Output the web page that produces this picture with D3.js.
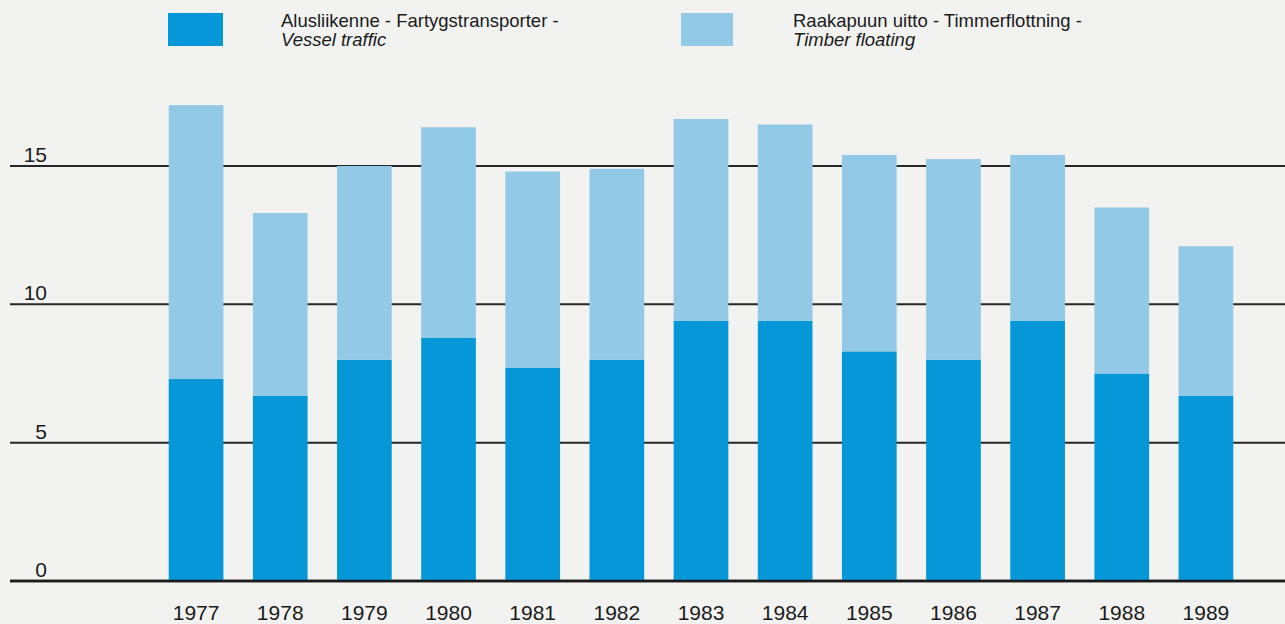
<!DOCTYPE html>
<html>
<head>
<meta charset="utf-8">
<script src="https://cdn.jsdelivr.net/npm/d3@7"></script>
<style>
  body { margin: 0; background: #f2f3f1; }
  #chart { width: 1285px; height: 624px; }
  text { font-family: "Liberation Sans", Arial, sans-serif; fill: #1a1a1a; }
</style>
</head>
<body>
<div id="chart"></div>
<script>

const years = ['1977','1978','1979','1980','1981','1982','1983','1984','1985','1986','1987','1988','1989'];
// alusliikenne (vessel traffic)
const vessel = [7.3, 6.7, 8.0, 8.8, 7.7, 8.0, 9.4, 9.4, 8.3, 8.0, 9.4, 7.5, 6.7];
// raakapuun uitto (timber floating)
const timber = [9.9, 6.6, 7.0, 7.6, 7.1, 6.9, 7.3, 7.1, 7.1, 7.25, 6.0, 6.0, 5.4];
const yTicks = [0, 5, 10, 15];

const legendLines = [
  ['Alusliikenne - Fartygstransporter -', 'Vessel traffic'],
  ['Raakapuun uitto - Timmerflottning -', 'Timber floating']
];

const DARK = '#0597d7';
const LIGHT = '#92c9e6';

function StackChart(_){

  let _w, _h;

  function exports(){

    _w = _.clientWidth;
    _h = _.clientHeight;

    const rows = years.map((y, i) => ({ year: y, vessel: vessel[i], timber: timber[i] }));
    const series = d3.stack().keys(['vessel','timber'])(rows);

    const x = d3.scaleBand()
      .domain(years)
      .range([154, 1248])
      .paddingInner(0.35)
      .paddingOuter(0.175);

    const y = d3.scaleLinear()
      .domain([0, 15])
      .range([581, 166]);

    const svg = d3.select(_)
      .append('svg')
      .attr('width', _w)
      .attr('height', _h);

    // gridlines
    svg.selectAll('.grid')
      .data(yTicks)
      .enter().append('line')
      .attr('class','grid')
      .attr('x1', 10)
      .attr('x2', _w)
      .attr('y1', d => y(d))
      .attr('y2', d => y(d))
      .style('stroke', '#262626')
      .style('stroke-width', d => d === 0 ? 2.5 : 2);

    svg.selectAll('.ylab')
      .data(yTicks)
      .enter().append('text')
      .attr('class','ylab')
      .attr('x', 47)
      .attr('y', d => y(d) - 4)
      .attr('text-anchor','end')
      .style('font-size','21px')
      .text(d => d);

    const color = d3.scaleOrdinal().domain(['vessel','timber']).range([DARK, LIGHT]);

    svg.selectAll('.layer')
      .data(series)
      .enter().append('g')
      .attr('class','layer')
      .style('fill', d => color(d.key))
      .selectAll('rect')
      .data(d => d)
      .enter().append('rect')
      .attr('x', d => x(d.data.year))
      .attr('width', x.bandwidth())
      .attr('y', d => y(d[1]))
      .attr('height', d => y(d[0]) - y(d[1]));

    // redraw the zero line over the bars
    svg.append('line')
      .attr('x1', 10).attr('x2', _w)
      .attr('y1', y(0)).attr('y2', y(0))
      .style('stroke', '#1a1a1a')
      .style('stroke-width', 2.5);

    svg.selectAll('.xlab')
      .data(years)
      .enter().append('text')
      .attr('class','xlab')
      .attr('x', d => x(d) + x.bandwidth() / 2)
      .attr('y', 620)
      .attr('text-anchor','middle')
      .style('font-size','21px')
      .text(d => d);

    // legend
    const legendX = [168, 681];
    const legend = svg.selectAll('.legend')
      .data(legendLines)
      .enter().append('g')
      .attr('class','legend')
      .attr('transform', (d, i) => `translate(${legendX[i]}, 13)`);

    legend.append('rect')
      .attr('width', (d, i) => i === 0 ? 55 : 52)
      .attr('height', 33)
      .style('fill', (d, i) => i === 0 ? DARK : LIGHT);

    legend.append('text')
      .attr('x', (d, i) => i === 0 ? 113 : 112)
      .attr('y', 14)
      .style('font-size','18.5px')
      .text(d => d[0]);

    legend.append('text')
      .attr('x', (d, i) => i === 0 ? 113 : 112)
      .attr('y', 33)
      .style('font-size','18.5px')
      .style('font-style','italic')
      .text(d => d[1]);
  }

  return exports;
}

const chart = StackChart(document.getElementById('chart'));
chart();

</script>
</body>
</html>
